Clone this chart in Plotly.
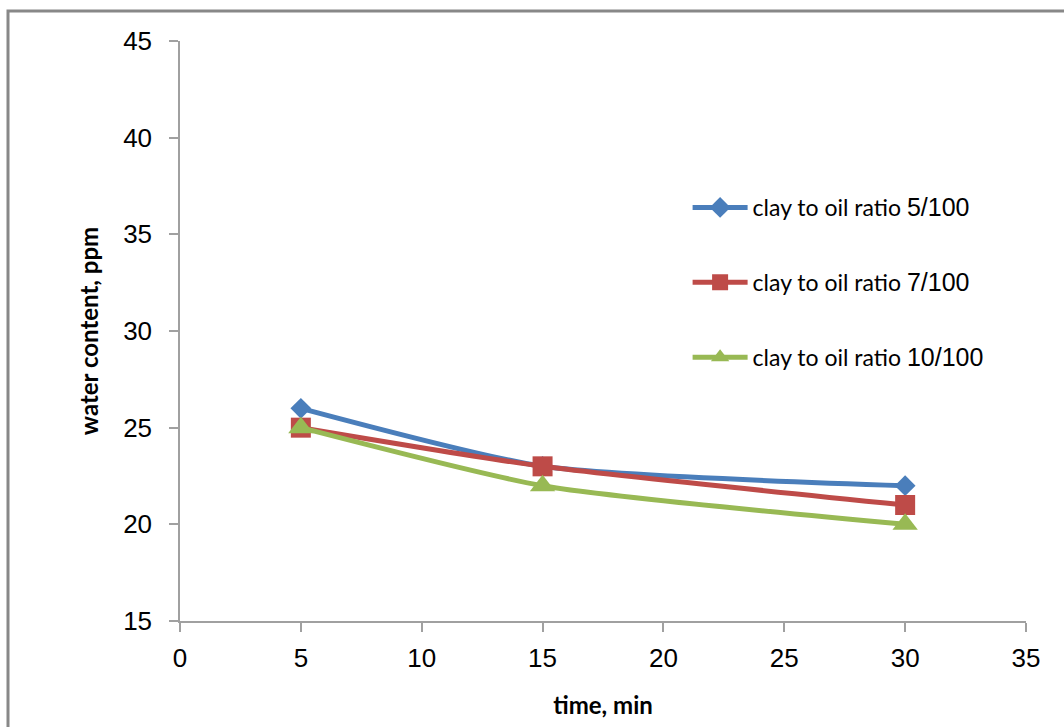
import plotly.graph_objects as go

time_min = [5, 15, 30]
series_labels = ["clay to oil ratio", "clay to oil ratio", "clay to oil ratio"]
series_ratios = ["5/100", "7/100", "10/100"]
ratio_5 = [26, 23, 22]
ratio_7 = [25, 23, 21]
ratio_10 = [25, 22, 20]
x_ticks = [0, 5, 10, 15, 20, 25, 30, 35]
y_ticks = [15, 20, 25, 30, 35, 40, 45]

colors = ["#4a7ebb", "#be4b48", "#98b954"]
symbols = ["diamond", "square", "triangle-up"]
sizes = [16, 20, 22]

fig = go.Figure()
for i, vals in enumerate([ratio_5, ratio_7, ratio_10]):
    fig.add_trace(go.Scatter(
        x=time_min, y=vals,
        name=series_labels[i] + ' <span style="font-family:\'Liberation Sans\', Arial;font-size:25px">' + series_ratios[i] + "</span>",
        mode="lines+markers",
        line=dict(color=colors[i], width=5, shape="spline", smoothing=0.6),
        marker=dict(symbol=symbols[i], size=sizes[i], color=colors[i]),
        legendgroup=str(i),
    ))

axis_common = dict(
    showgrid=False, zeroline=False, showline=True, linecolor="#a0a0a0", linewidth=1.5,
    ticks="outside", ticklen=9, tickcolor="#a0a0a0", tickwidth=1.5,
    tickfont=dict(family="Liberation Sans, Arial", size=26, color="#000"),
)
fig.update_xaxes(range=[0, 35], tickvals=x_ticks, ticklabelstandoff=4, **axis_common,
                 title=dict(text="<b>time, min</b>", font=dict(family="Lato, Carlito, Calibri", size=24, color="#000"), standoff=25))
fig.update_yaxes(range=[15, 45], tickvals=y_ticks, ticklabelstandoff=12, **axis_common,
                 title=dict(text="<b>water content, ppm</b>", font=dict(family="Lato, Carlito, Calibri", size=24, color="#000"), standoff=18))

fig.update_layout(
    width=1064, height=727,
    margin=dict(l=180, r=38, t=41, b=106),
    paper_bgcolor="white", plot_bgcolor="white",
    legend=dict(x=0.6, y=0.75, xanchor="left", yanchor="top",
                font=dict(family="Lato, Carlito, Calibri", size=23, color="#000"),
                traceorder="grouped", tracegroupgap=42, itemwidth=55,
                bgcolor="rgba(0,0,0,0)"),
    shapes=[dict(type="rect", xref="paper", yref="paper",
                 x0=-172/846, x1=1.2, y0=-0.5, y1=1 + 30/580,
                 line=dict(color="#888888", width=3), fillcolor="rgba(0,0,0,0)")],
)
fig.write_html("out.html")
